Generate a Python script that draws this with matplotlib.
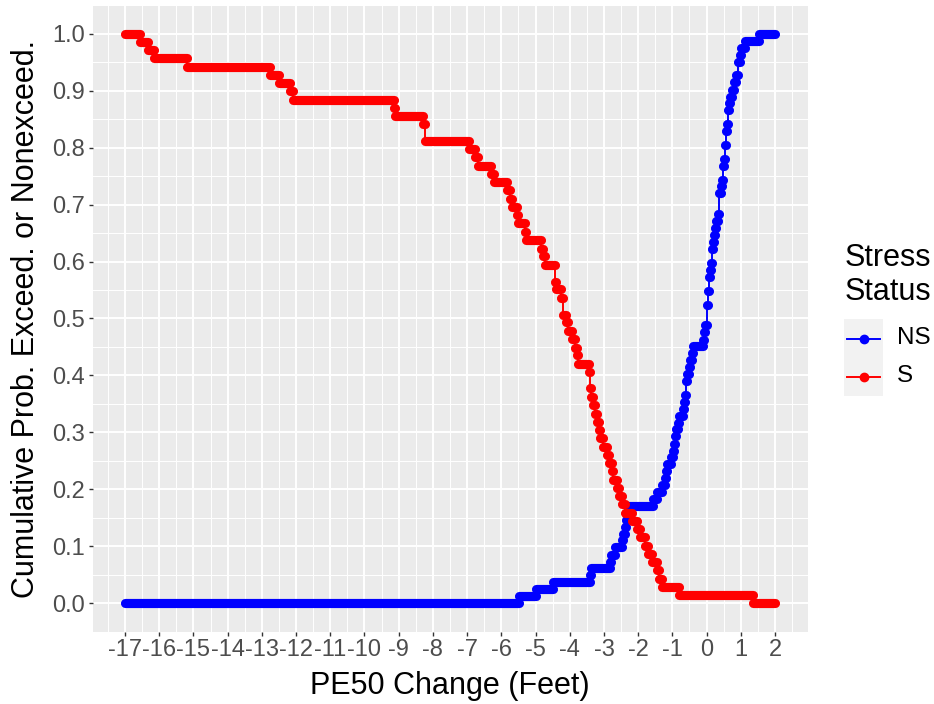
import numpy as np
import matplotlib
matplotlib.use("Agg")
import matplotlib.pyplot as plt
from matplotlib.lines import Line2D
from matplotlib.patches import Rectangle

plt.rcParams['font.family'] = ['Liberation Sans', 'DejaVu Sans']

# S sites: exceedance probability, x = PE50 change where each level starts
s_x = [-17, -16.55, -16.33, -16.15, -15.2, -12.75, -12.5, -12.17, -12.1, -9.15,
       -9.1, -8.3, -8.22, -6.95, -6.78, -6.67, -6.3, -6.2, -5.83, -5.76,
       -5.68, -5.55, -5.51, -5.32, -5.28, -4.83, -4.77, -4.72, -4.44, -4.42,
       -4.4, -4.27, -4.2, -4.12, -4.04, -3.92, -3.85, -3.8, -3.76, -3.45,
       -3.41, -3.37, -3.31, -3.26, -3.21, -3.14, -3.11, -3.04, -2.92, -2.84,
       -2.77, -2.73, -2.63, -2.55, -2.48, -2.38, -2.17, -2.04, -1.95, -1.8,
       -1.7, -1.6, -1.46, -1.4, -1.31, -0.8, 1.36]
s_p = [1.0, 0.986, 0.971, 0.957, 0.942, 0.928, 0.913, 0.899, 0.884, 0.870,
       0.855, 0.841, 0.812, 0.797, 0.783, 0.768, 0.754, 0.739, 0.725, 0.710,
       0.696, 0.681, 0.667, 0.652, 0.638, 0.623, 0.609, 0.594, 0.580, 0.565,
       0.551, 0.536, 0.507, 0.493, 0.478, 0.464, 0.449, 0.435, 0.420, 0.406,
       0.377, 0.362, 0.348, 0.333, 0.319, 0.304, 0.290, 0.275, 0.261, 0.246,
       0.232, 0.217, 0.203, 0.188, 0.174, 0.159, 0.145, 0.130, 0.116, 0.101,
       0.087, 0.072, 0.058, 0.043, 0.029, 0.014, 0.0]

# NS sites: nonexceedance probability
ns_x = [-17, -5.48, -4.99, -4.5, -3.42, -3.38, -2.82, -2.78, -2.67, -2.48,
        -2.43, -2.38, -2.35, -2.33, -2.3, -1.56, -1.46, -1.31, -1.22, -1.2,
        -1.16, -1.03, -0.99, -0.96, -0.93, -0.89, -0.85, -0.8, -0.68, -0.65,
        -0.63, -0.61, -0.6, -0.58, -0.51, -0.48, -0.44, -0.39, -0.1, -0.07,
        -0.05, 0.0, 0.02, 0.03, 0.05, 0.06, 0.08, 0.1, 0.12, 0.15,
        0.17, 0.2, 0.22, 0.25, 0.28, 0.33, 0.35, 0.36, 0.37, 0.41,
        0.44, 0.47, 0.49, 0.51, 0.53, 0.55, 0.56, 0.58, 0.6, 0.62,
        0.64, 0.66, 0.69, 0.73, 0.79, 0.86, 0.92, 0.97, 1.02, 1.12,
        1.52]
ns_p = [0.0, 0.012, 0.024, 0.037, 0.049, 0.061, 0.073, 0.085, 0.098, 0.110,
        0.122, 0.134, 0.146, 0.159, 0.171, 0.183, 0.195, 0.207, 0.220, 0.232,
        0.244, 0.256, 0.268, 0.280, 0.293, 0.305, 0.317, 0.329, 0.341, 0.354,
        0.366, 0.378, 0.390, 0.402, 0.415, 0.427, 0.439, 0.451, 0.463, 0.476,
        0.488, 0.512, 0.524, 0.537, 0.549, 0.561, 0.573, 0.585, 0.598, 0.610,
        0.622, 0.634, 0.646, 0.659, 0.671, 0.683, 0.695, 0.707, 0.720, 0.732,
        0.744, 0.756, 0.768, 0.780, 0.793, 0.805, 0.817, 0.829, 0.841, 0.854,
        0.866, 0.878, 0.890, 0.902, 0.915, 0.927, 0.951, 0.963, 0.976, 0.988,
        1.0]

x_end = 2.0
x_ticks = list(range(-17, 3))
y_ticks = [0.0, 0.1, 0.2, 0.3, 0.4, 0.5, 0.6, 0.7, 0.8, 0.9, 1.0]
groups = ['NS', 'S']
colors = {'NS': '#0000FF', 'S': '#FF0000'}

W, H = 934, 704
fig = plt.figure(figsize=(W / 100, H / 100), dpi=100)
ax = fig.add_axes([92.5 / W, 1 - 631.5 / H, 715 / W, 626 / H])
ax.set_facecolor('#EBEBEB')
for sp in ax.spines.values():
    sp.set_visible(False)

dot = 6.6


def draw(xs, ps, color):
    ends = xs[1:] + [x_end]
    ax.step(xs + [x_end], ps + [ps[-1]], where='post', color=color, lw=1.4, zorder=3)
    ax.hlines(ps, xs, ends, colors=color, lw=dot, capstyle='round', zorder=4)


draw(ns_x, ns_p, colors['NS'])
draw(s_x, s_p, colors['S'])

ax.set_xlim(-17.95, 2.95)
ax.set_ylim(-0.05, 1.05)
ax.set_xticks(x_ticks)
ax.set_xticklabels([str(t) for t in x_ticks])
ax.set_xticks(np.arange(-17.5, 3.0, 1.0), minor=True)
ax.set_yticks(y_ticks)
ax.set_yticklabels(['%.1f' % t for t in y_ticks])
ax.set_yticks(np.arange(0.05, 1.0, 0.1), minor=True)
ax.grid(which='major', color='white', lw=1.4)
ax.grid(which='minor', color='white', lw=0.7)
ax.set_axisbelow(True)
ax.tick_params(which='major', length=3, width=1, color='#333333',
               labelcolor='#4D4D4D', labelsize=17, pad=2.5)
ax.tick_params(which='minor', length=0)

fig.text(450 / W, 1 - 686 / H, 'PE50 Change (Feet)', ha='center', va='center', fontsize=22)
fig.text(26 / W, 1 - 318.5 / H, 'Cumulative Prob. Exceed. or Nonexceed.',
         ha='center', va='center', rotation=90, fontsize=22)

# legend
fig.text(845 / W, 1 - 266.5 / H, 'Stress', ha='left', va='baseline', fontsize=22)
fig.text(845 / W, 1 - 300 / H, 'Status', ha='left', va='baseline', fontsize=22)
fig.add_artist(Rectangle((844 / W, 1 - 396 / H), 39 / W, 77 / H,
                         transform=fig.transFigure, facecolor='#F2F2F2', edgecolor='none'))
for g, ky in zip(groups, [338.5, 376.5]):
    fy = 1 - ky / H
    fig.add_artist(Line2D([847 / W, 880 / W], [fy, fy], transform=fig.transFigure,
                          color=colors[g], lw=1.4))
    fig.add_artist(Line2D([863.5 / W], [fy], transform=fig.transFigure, color=colors[g],
                          marker='o', markersize=6.0, lw=0))
    fig.text(897 / W, fy, g, ha='left', va='center', fontsize=17.5)

fig.savefig('out.png', dpi=100)
